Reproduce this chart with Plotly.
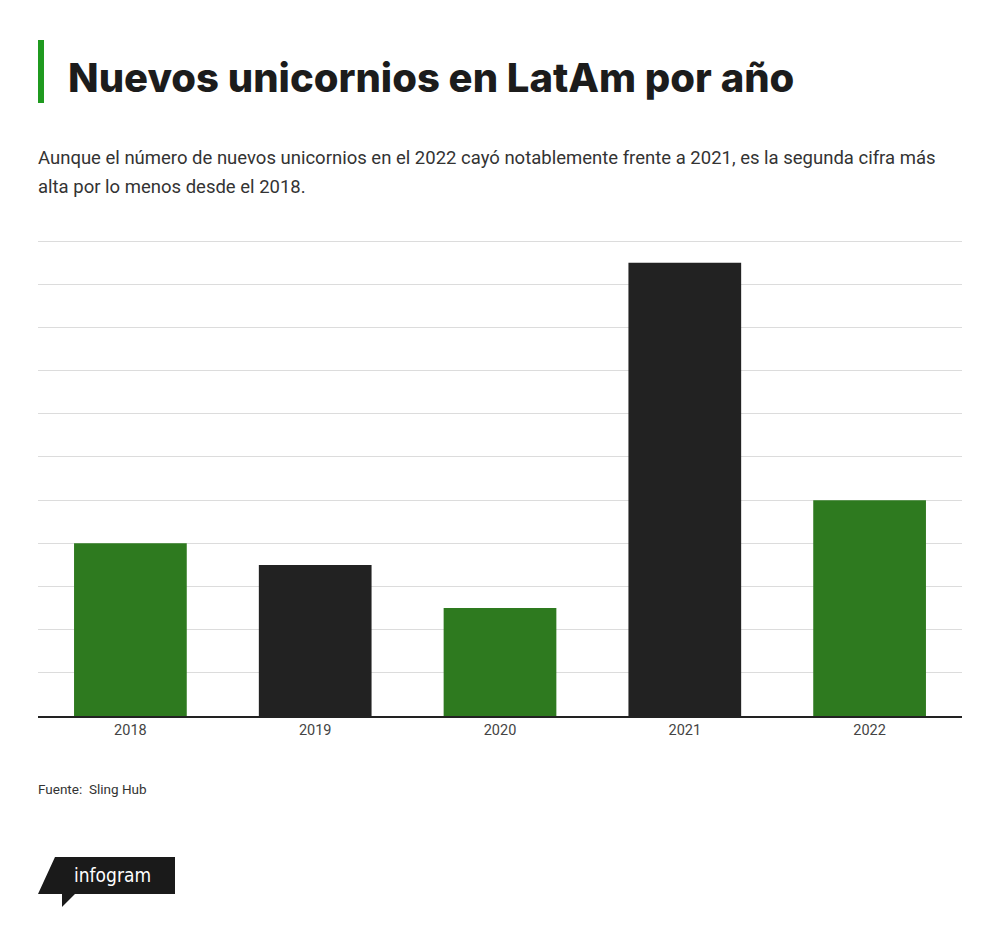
import plotly.graph_objects as go

years = ["2018", "2019", "2020", "2021", "2022"]
unicornios = [8, 7, 5, 21, 10]
colores = ["#2e7a1f", "#222222", "#2e7a1f", "#222222", "#2e7a1f"]

# la página añade 8px de margen al body: se compensa aquí
OFF = 8
W, H = 1000, 926
L, R, T, B = 30, 46, 232, 218
pw, ph = W - L - R, H - T - B


def px(x):
    return (x - OFF - L) / pw


def py(y):
    return (H - B - (y - OFF)) / ph


fig = go.Figure()
fig.add_trace(go.Bar(x=years, y=unicornios, marker_color=colores,
                     marker_line_width=0, hoverinfo="x+y"))

# franja verde del título
fig.add_shape(type="rect", xref="paper", yref="paper",
              x0=px(38), x1=px(44), y0=py(40), y1=py(103),
              fillcolor="#1f9a1f", line_width=0)

# logo infogram
pts = [(38, 894), (55, 857), (175, 857), (175, 894), (75, 894), (62, 907), (62, 894)]
path = "M " + " L ".join(f"{px(a):.5f},{py(b):.5f}" for a, b in pts) + " Z"
fig.add_shape(type="path", xref="paper", yref="paper", path=path,
              fillcolor="#1a1a1a", line_width=0)

fig.add_annotation(text="Nuevos unicornios en LatAm por año", xref="paper", yref="paper",
                   x=px(66), y=py(77), xanchor="left", yanchor="middle", showarrow=False,
                   font=dict(family="Inter", size=40, weight=800, color="#1c1c1c"))
sub = ["Aunque el número de nuevos unicornios en el 2022 cayó notablemente frente a 2021, es la segunda cifra más",
       "alta por lo menos desde el 2018."]
for i, linea in enumerate(sub):
    fig.add_annotation(text=linea, xref="paper", yref="paper",
                       x=px(36), y=py(158 + 29 * i), xanchor="left",
                       yanchor="middle", align="left", showarrow=False,
                       font=dict(family="Roboto", size=18.5, color="#333333"))
fig.add_annotation(text="Fuente:  Sling Hub", xref="paper", yref="paper",
                   x=px(36), y=py(789), xanchor="left", yanchor="middle", showarrow=False,
                   font=dict(family="Roboto", size=13.5, color="#333333"))
fig.add_annotation(text="infogram", xref="paper", yref="paper",
                   x=px(72), y=py(875), xanchor="left", yanchor="middle", showarrow=False,
                   font=dict(family="DejaVu Sans Condensed", size=19, color="white"))

fig.update_layout(
    width=W, height=H,
    margin=dict(l=L, r=R, t=T, b=B),
    paper_bgcolor="white", plot_bgcolor="white",
    bargap=0.39, showlegend=False,
    xaxis=dict(showline=True, linecolor="#222222", linewidth=2, ticks="",
               tickfont=dict(family="Roboto", size=14.5, color="#444444"), fixedrange=True),
    yaxis=dict(range=[0, 22.05], dtick=2, showticklabels=False, gridcolor="#dcdcdc",
               gridwidth=1, zeroline=False, fixedrange=True),
)

fig.write_html("out.html")
